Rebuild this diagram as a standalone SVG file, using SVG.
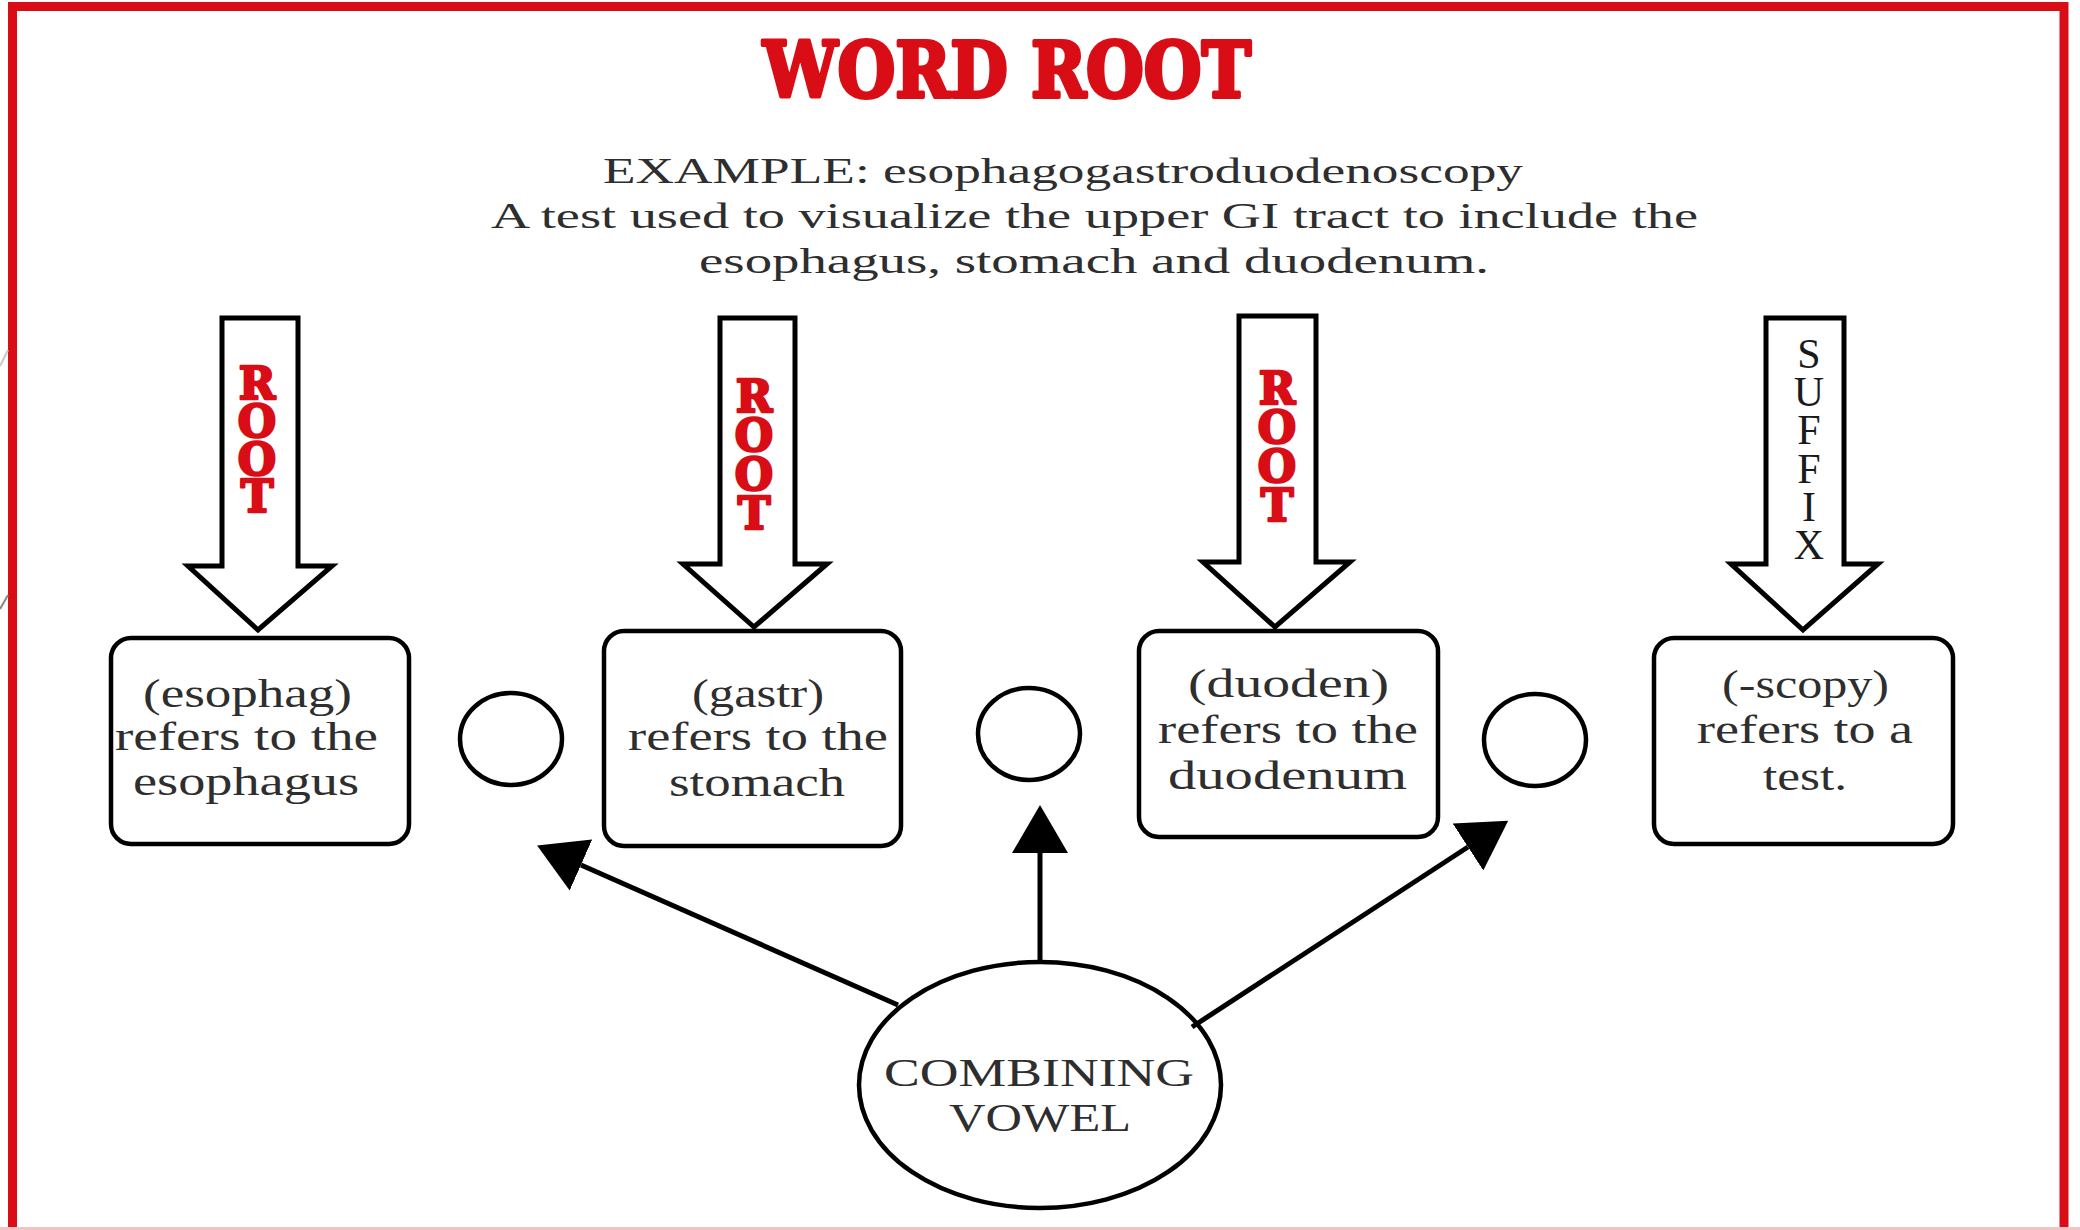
<svg xmlns="http://www.w3.org/2000/svg" width="2080" height="1230" viewBox="0 0 2080 1230">
<style>
.frame{fill:none;stroke:#d90d16;stroke-width:9}
.block{fill:#fff;stroke:#000;stroke-width:5;stroke-linejoin:miter}
.box{fill:#fff;stroke:#000;stroke-width:4.5}
.ring{fill:#fff;stroke:#000;stroke-width:4.5}
.conn{fill:none;stroke:#000;stroke-width:5}
.title{font-family:"DejaVu Serif","Liberation Serif",serif;font-weight:bold;font-size:77px;fill:#d90d16;stroke:#d90d16;stroke-width:4;stroke-linejoin:round}
.root{font-family:"DejaVu Serif","Liberation Serif",serif;font-weight:bold;font-size:44px;fill:#d90d16;stroke:#d90d16;stroke-width:2.5;stroke-linejoin:round;text-anchor:middle}
.suffix{font-family:"Liberation Serif",serif;font-size:42px;fill:#1a1a1a;text-anchor:middle}
.desc{font-family:"Liberation Serif",serif;font-size:36px;fill:#2e2e2e}
.lbl{font-family:"Liberation Serif",serif;font-size:40px;fill:#2e2e2e}
</style>
<defs>
<marker id="head" markerUnits="userSpaceOnUse" markerWidth="48" markerHeight="56" refX="0" refY="28" orient="auto" viewBox="0 0 48 56">
<path d="M0,0 L48,28 L0,56 Z" fill="#000"/>
</marker>
</defs>
<rect width="2080" height="1230" fill="#fff"/>
<rect class="frame" x="12.5" y="6.5" width="2051.5" height="1250"/>
<line x1="0" y1="1228.5" x2="2080" y2="1228.5" stroke="#f2c4c4" stroke-width="3"/>
<line x1="0" y1="366" x2="8" y2="350" stroke="#c8c8c0" stroke-width="2"/>
<line x1="0" y1="609" x2="8" y2="595" stroke="#8a8878" stroke-width="2"/>

<g id="title">
<text class="title" x="763" y="97" textLength="488" lengthAdjust="spacingAndGlyphs">WORD ROOT</text>
</g>
<g id="example">
<text class="desc" x="603" y="183" textLength="920" lengthAdjust="spacingAndGlyphs">EXAMPLE: esophagogastroduodenoscopy</text>
<text class="desc" x="491" y="228" textLength="1207" lengthAdjust="spacingAndGlyphs">A test used to visualize the upper GI tract to include the</text>
<text class="desc" x="699" y="273" textLength="790" lengthAdjust="spacingAndGlyphs">esophagus, stomach and duodenum.</text>
</g>

<g id="arrow-root-1">
<polygon class="block" points="222,318 298,318 298,566 332,566 258,630 188,566 222,566"/>
<text class="root"><tspan x="257" y="399">R</tspan><tspan x="257" y="437">O</tspan><tspan x="257" y="475">O</tspan><tspan x="257" y="512">T</tspan></text>
</g>
<g id="arrow-root-2">
<polygon class="block" points="720,318 795,318 795,564 827,564 754,627 683,564 720,564"/>
<text class="root"><tspan x="754" y="412">R</tspan><tspan x="754" y="451">O</tspan><tspan x="754" y="490">O</tspan><tspan x="754" y="529">T</tspan></text>
</g>
<g id="arrow-root-3">
<polygon class="block" points="1239,316 1316,316 1316,562 1350,562 1275,627 1203,562 1239,562"/>
<text class="root"><tspan x="1277" y="404">R</tspan><tspan x="1277" y="443">O</tspan><tspan x="1277" y="482">O</tspan><tspan x="1277" y="521">T</tspan></text>
</g>
<g id="arrow-suffix">
<polygon class="block" points="1766,318 1844,318 1844,564 1878,564 1803,630 1731,564 1766,564"/>
<text class="suffix"><tspan x="1809" y="368">S</tspan><tspan x="1809" y="406">U</tspan><tspan x="1809" y="444">F</tspan><tspan x="1809" y="483">F</tspan><tspan x="1809" y="521">I</tspan><tspan x="1809" y="559">X</tspan></text>
</g>

<g id="box-esophag">
<rect class="box" x="111" y="638" width="298" height="206" rx="20"/>
<text class="lbl" x="143" y="707" textLength="209" lengthAdjust="spacingAndGlyphs">(esophag)</text>
<text class="lbl" x="115" y="750" textLength="263" lengthAdjust="spacingAndGlyphs">refers to the</text>
<text class="lbl" x="133" y="795" textLength="226" lengthAdjust="spacingAndGlyphs">esophagus</text>
</g>
<g id="box-gastr">
<rect class="box" x="604" y="631" width="297" height="215" rx="20"/>
<text class="lbl" x="692" y="707" textLength="132" lengthAdjust="spacingAndGlyphs">(gastr)</text>
<text class="lbl" x="628" y="750" textLength="260" lengthAdjust="spacingAndGlyphs">refers to the</text>
<text class="lbl" x="669" y="796" textLength="176" lengthAdjust="spacingAndGlyphs">stomach</text>
</g>
<g id="box-duoden">
<rect class="box" x="1139" y="631" width="299" height="206" rx="20"/>
<text class="lbl" x="1188" y="697" textLength="201" lengthAdjust="spacingAndGlyphs">(duoden)</text>
<text class="lbl" x="1158" y="743" textLength="260" lengthAdjust="spacingAndGlyphs">refers to the</text>
<text class="lbl" x="1168" y="789" textLength="239" lengthAdjust="spacingAndGlyphs">duodenum</text>
</g>
<g id="box-scopy">
<rect class="box" x="1654" y="638" width="299" height="206" rx="20"/>
<text class="lbl" x="1722" y="698" textLength="167" lengthAdjust="spacingAndGlyphs">(-scopy)</text>
<text class="lbl" x="1697" y="743" textLength="216" lengthAdjust="spacingAndGlyphs">refers to a</text>
<text class="lbl" x="1763" y="790" textLength="84" lengthAdjust="spacingAndGlyphs">test.</text>
</g>

<g id="vowel-slot-1"><ellipse class="ring" cx="511" cy="739" rx="51" ry="46"/></g>
<g id="vowel-slot-2"><ellipse class="ring" cx="1029" cy="734" rx="51" ry="46"/></g>
<g id="vowel-slot-3"><ellipse class="ring" cx="1535" cy="740" rx="51" ry="46"/></g>

<g id="combining-vowel">
<ellipse class="ring" cx="1040" cy="1085" rx="181" ry="123"/>
<text class="lbl" x="884" y="1086" textLength="310" lengthAdjust="spacingAndGlyphs">COMBINING</text>
<text class="lbl" x="949" y="1131" textLength="182" lengthAdjust="spacingAndGlyphs">VOWEL</text>
</g>

<g id="connectors">
<line class="conn" x1="898" y1="1005" x2="581" y2="865" marker-end="url(#head)"/>
<line class="conn" x1="1040" y1="962" x2="1040" y2="853" marker-end="url(#head)"/>
<line class="conn" x1="1192" y1="1027" x2="1468" y2="847" marker-end="url(#head)"/>
</g>
</svg>
